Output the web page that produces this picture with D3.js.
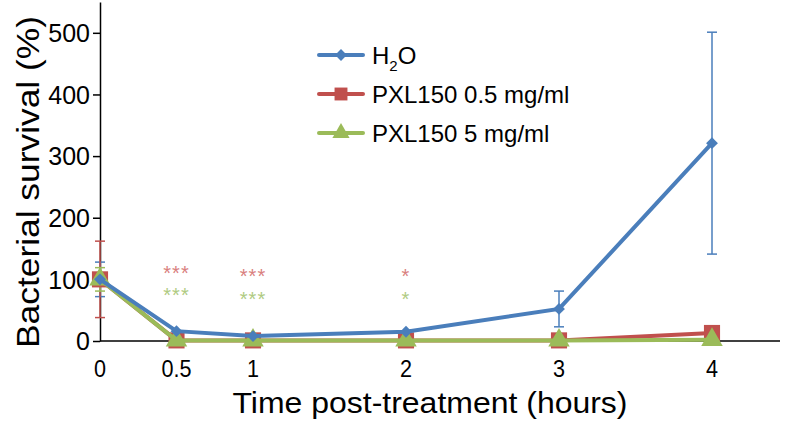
<!DOCTYPE html>
<html>
<head>
<meta charset="utf-8">
<script src="https://cdn.jsdelivr.net/npm/d3@7"></script>
<style>
  body { margin: 0; background: #fff; }
  text { font-family: "Liberation Sans", Arial, sans-serif; }
</style>
</head>
<body>
<div id="chart"></div>
<script>
var width = 793, height = 423;

// data
var hours = [0, 0.5, 1, 2, 3, 4];
var xTicks = [0, 0.5, 1, 2, 3, 4];
var yTicks = [0, 100, 200, 300, 400, 500];
var h2o = [100, 16, 8, 15, 52, 321];
var h2oErr = [28, 0, 0, 0, 29, 180];
var low = [100, 1, 1, 1, 1, 13];
var lowErr = [62, 0, 0, 0, 0, 0];
var high = [100, 1, 1, 1, 1, 2];
var highErr = [19, 0, 0, 0, 0, 0];
var starHours = [0.5, 1, 2];
var starsLow = ["***", "***", "*"];
var starsHigh = ["***", "***", "*"];

var series = [
    {name: "H2O", values: h2o, err: h2oErr, color: "#4a7ebb", shape: "diamond"},
    {name: "PXL150 0.5 mg/ml", values: low, err: lowErr, color: "#c0504d", shape: "square"},
    {name: "PXL150 5 mg/ml", values: high, err: highErr, color: "#9bbb59", shape: "triangle"}
];

var x = d3.scaleLinear().domain([0, 4]).range([100, 712]);
var y = d3.scaleLinear().domain([0, 550]).range([341, 2]);

var svg = d3.select("#chart").append("svg")
    .attr("width", width)
    .attr("height", height);

// axes
var yAxis = svg.append("g")
    .attr("transform", "translate(" + x(0) + ",0)")
    .call(d3.axisLeft(y).tickValues(yTicks).tickSize(7).tickSizeOuter(0));
yAxis.select(".domain").attr("stroke", "#000").attr("stroke-width", 1.5);
yAxis.selectAll(".tick line").attr("stroke-width", 1.5).attr("x2", 0).attr("x1", -7);
yAxis.selectAll(".tick text").attr("font-size", 25).attr("x", -10).attr("dy", "0.35em").attr("fill", "#000");

var xAxis = svg.append("g")
    .attr("transform", "translate(0," + y(0) + ")");
xAxis.append("line")
    .attr("x1", x(0)).attr("x2", 780)
    .attr("stroke", "#000").attr("stroke-width", 1.5);
xAxis.selectAll(".xt")
    .data(xTicks)
    .enter().append("text")
    .attr("class", "xt")
    .attr("x", function(d) { return x(d); })
    .attr("y", 36)
    .attr("text-anchor", "middle")
    .attr("font-size", 24)
    .attr("transform", function(d) { return "translate(" + x(d) + ",0) scale(0.9,1) translate(" + (-x(d)) + ",0)"; })
    .text(function(d) { return d; });

// error bars
series.forEach(function(s) {
    var g = svg.append("g");
    hours.forEach(function(h, i) {
        if (!s.err[i]) return;
        var top = y(s.values[i] + s.err[i]), bot = y(s.values[i] - s.err[i]);
        g.append("line").attr("x1", x(h)).attr("x2", x(h)).attr("y1", top).attr("y2", bot)
            .attr("stroke", s.color).attr("stroke-width", 1.5);
        [top, bot].forEach(function(v) {
            g.append("line").attr("x1", x(h) - 5).attr("x2", x(h) + 5).attr("y1", v).attr("y2", v)
                .attr("stroke", s.color).attr("stroke-width", 1.5);
        });
    });
});

var line = d3.line()
    .x(function(d) { return x(d[0]); })
    .y(function(d) { return y(d[1]); });

// excel style markers; diamond = square turned 45deg
function symbolFor(shape) {
    if (shape === "diamond") return d3.symbol().type(d3.symbolSquare).size(70)();
    if (shape === "square") return d3.symbol().type(d3.symbolSquare).size(260)();
    return d3.symbol().type(d3.symbolTriangle).size(200)();
}
function markerRot(shape) {
    return shape === "diamond" ? " rotate(45)" : "";
}

// lines + markers, drawn so blue is on top like the original
[series[1], series[2], series[0]].forEach(function(s) {
    var pts = hours.map(function(h, i) { return [h, s.values[i]]; });
    svg.append("path")
        .datum(pts)
        .attr("d", line)
        .attr("fill", "none")
        .attr("stroke", s.color)
        .attr("stroke-width", 4);
    svg.selectAll(null)
        .data(pts)
        .enter().append("path")
        .attr("d", symbolFor(s.shape))
        .attr("transform", function(d) { return "translate(" + x(d[0]) + "," + y(d[1]) + ")" + markerRot(s.shape); })
        .attr("fill", s.color);
});

// significance stars
svg.selectAll(".sl")
    .data(starHours)
    .enter().append("text")
    .attr("x", function(d) { return x(d); })
    .attr("y", function(d, i) { return i === 0 ? 280 : 283; })
    .attr("text-anchor", "middle")
    .attr("font-size", 20)
    .attr("letter-spacing", 1)
    .attr("fill", "#d9807e")
    .text(function(d, i) { return starsLow[i]; });
svg.selectAll(".sh")
    .data(starHours)
    .enter().append("text")
    .attr("x", function(d) { return x(d); })
    .attr("y", function(d, i) { return i === 0 ? 302 : 306; })
    .attr("text-anchor", "middle")
    .attr("font-size", 20)
    .attr("letter-spacing", 1)
    .attr("fill", "#afcb82")
    .text(function(d, i) { return starsHigh[i]; });

// legend
var legend = svg.append("g").attr("transform", "translate(319,55)");
series.forEach(function(s, i) {
    var row = legend.append("g").attr("transform", "translate(0," + (i * 39) + ")");
    row.append("line").attr("x1", 0).attr("x2", 44)
        .attr("stroke", s.color).attr("stroke-width", 4).attr("stroke-linecap", "round");
    row.append("path").attr("d", symbolFor(s.shape))
        .attr("transform", "translate(22,0)" + (s.shape === "diamond" ? markerRot(s.shape) : " scale(0.8)"))
        .attr("fill", s.color);
    var t = row.append("text").attr("x", 53).attr("y", 9).attr("font-size", 24);
    if (i === 0) {
        t.append("tspan").text("H");
        t.append("tspan").attr("font-size", 15).attr("dy", 7).text("2");
        t.append("tspan").attr("dy", -7).text("O");
    } else {
        t.text(s.name);
    }
});

// axis titles
svg.append("text")
    .attr("transform", "translate(39,182) rotate(-90)")
    .attr("text-anchor", "middle")
    .attr("font-size", 31)
    .attr("textLength", 332)
    .attr("lengthAdjust", "spacingAndGlyphs")
    .text("Bacterial survival (%)");
svg.append("text")
    .attr("x", 430)
    .attr("y", 413)
    .attr("text-anchor", "middle")
    .attr("font-size", 30)
    .attr("textLength", 395)
    .attr("lengthAdjust", "spacingAndGlyphs")
    .text("Time post-treatment (hours)");
</script>
</body>
</html>
